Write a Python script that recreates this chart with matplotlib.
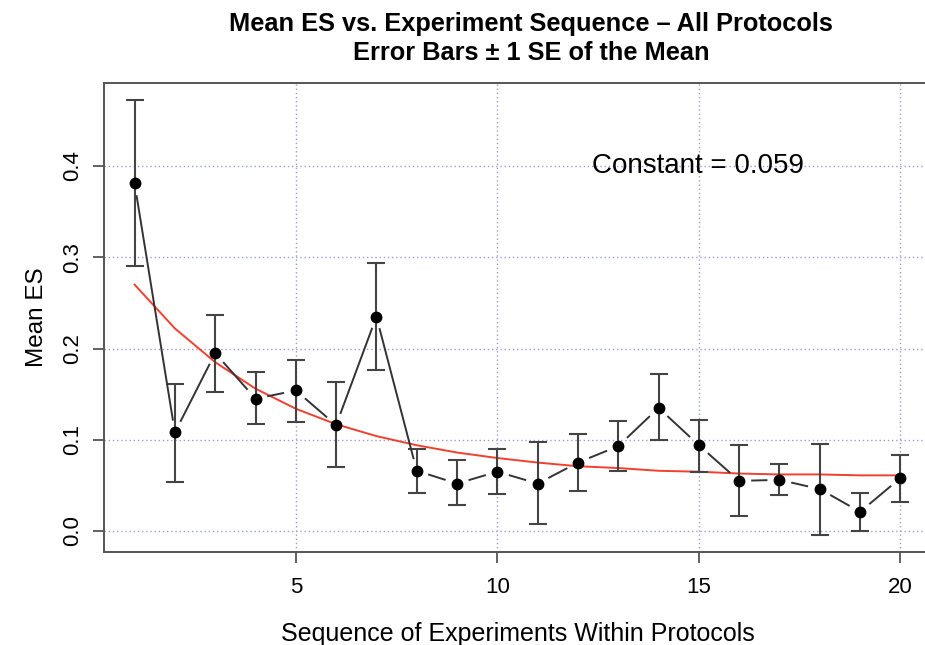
import numpy as np
import matplotlib
matplotlib.use("Agg")
import matplotlib.pyplot as plt

seq = list(range(1, 21))
mean_es = [0.381, 0.108, 0.195, 0.145, 0.154, 0.116, 0.235, 0.066, 0.052, 0.065,
           0.052, 0.075, 0.093, 0.135, 0.094, 0.055, 0.056, 0.046, 0.021, 0.058]
se_upper = [0.472, 0.161, 0.237, 0.174, 0.187, 0.163, 0.294, 0.090, 0.078, 0.090,
            0.098, 0.106, 0.121, 0.172, 0.122, 0.094, 0.073, 0.095, 0.042, 0.083]
se_lower = [0.290, 0.054, 0.152, 0.117, 0.119, 0.070, 0.176, 0.042, 0.028, 0.041,
            0.008, 0.044, 0.066, 0.100, 0.065, 0.016, 0.039, -0.004, 0.000, 0.032]
fit_es = [0.270, 0.222, 0.185, 0.156, 0.134, 0.117, 0.104, 0.094, 0.086, 0.080,
          0.075, 0.071, 0.069, 0.066, 0.065, 0.063, 0.062, 0.062, 0.061, 0.061]
xticks = [5, 10, 15, 20]
yticks = [0.0, 0.1, 0.2, 0.3, 0.4]
ytick_labels = ["0.0", "0.1", "0.2", "0.3", "0.4"]

plt.rcParams['font.family'] = ['Liberation Sans', 'DejaVu Sans']

fig = plt.figure(figsize=(9.25, 6.45), dpi=100)
ax = fig.add_axes([0.1124, 0.1442, 0.8941, 0.7271])
ax.set_xlim(0.24, 20.76)
ax.set_ylim(-0.023, 0.491)

grid_c = '#9c9cdc'
for xv in xticks:
    ax.axvline(xv, color=grid_c, ls=(0, (1, 2)), lw=1.0, zorder=0)
for yv in yticks:
    ax.axhline(yv, color=grid_c, ls=(0, (1, 2)), lw=1.0, zorder=0)

ax.plot(seq, fit_es, color='#f04030', lw=1.4, zorder=2)

# error bars
yerr = [np.array(mean_es) - np.array(se_lower), np.array(se_upper) - np.array(mean_es)]
ax.errorbar(seq, mean_es, yerr=yerr, fmt='none', ecolor='#444444', elinewidth=1.5,
            capsize=6.5, capthick=1.5, zorder=3)

# connecting line with gaps (R type='b')
fig.canvas.draw()
trans = ax.transData
inv = trans.inverted()
pts = trans.transform(np.column_stack([seq, mean_es]))
gap = 12.0
for i in range(len(pts) - 1):
    p0, p1 = pts[i], pts[i + 1]
    d = p1 - p0
    L = np.hypot(*d)
    if L <= 2 * gap:
        continue
    u = d / L
    a = inv.transform(p0 + u * gap)
    b = inv.transform(p1 - u * gap)
    ax.plot([a[0], b[0]], [a[1], b[1]], color='#333333', lw=1.4, zorder=3,
            solid_capstyle='butt')

ax.plot(seq, mean_es, 'o', color='black', ms=7.5, zorder=4)

ax.text(12.35, 0.4, "Constant = 0.059", fontsize=20, va='center', ha='left')

for s in ['left', 'bottom', 'top', 'right']:
    ax.spines[s].set_color('#555555')
    ax.spines[s].set_linewidth(1.4)

ax.set_xticks(xticks)
ax.set_yticks(yticks)
ax.set_yticklabels(ytick_labels, rotation=90, va='center')
ax.tick_params(axis='both', direction='out', length=8, width=1.3, color='#555555',
               labelsize=16, pad=7)
ax.tick_params(axis='x', pad=10)

ax.set_xlabel("Sequence of Experiments Within Protocols", fontsize=18, labelpad=17)
ax.set_ylabel("Mean ES", fontsize=17.5, labelpad=10)

fig.text(0.574, 0.963, "Mean ES vs. Experiment Sequence – All Protocols",
         ha='center', va='center', fontsize=18.3, fontweight='bold')
fig.text(0.574, 0.918, "Error Bars ± 1 SE of the Mean",
         ha='center', va='center', fontsize=18.3, fontweight='bold')

fig.savefig("out.png", dpi=100)
